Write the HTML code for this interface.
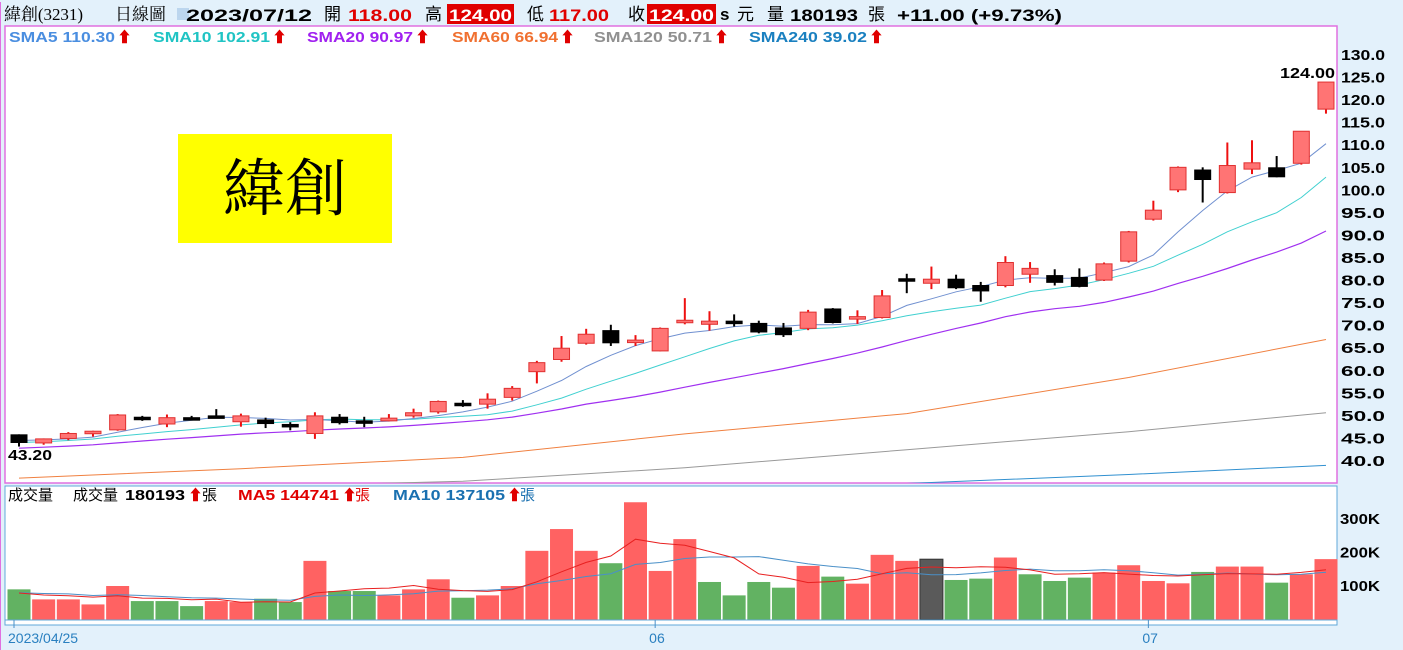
<!DOCTYPE html>
<html><head><meta charset="utf-8"><style>
html,body{margin:0;padding:0;background:#e3f1fb;}
svg{display:block;font-family:"Liberation Sans","Noto Sans CJK TC",sans-serif;}
</style></head><body>
<svg id="c" width="1403" height="650" viewBox="0 0 1403 650">
<rect x="0" y="0" width="1403" height="650" fill="#e3f1fb"/>
<rect x="5" y="26" width="1332" height="457" fill="#fff" stroke="#e070e0" stroke-width="1.5"/>
<rect x="5" y="486" width="1332" height="139" fill="#fff" stroke="#60a8d8" stroke-width="1"/>
<line x1="0" y1="2" x2="0" y2="650" stroke="#e070e0" stroke-width="2"/>
<g font-size="17">
<text x="4" y="20" textLength="79" font-family="'Liberation Serif','Noto Serif CJK SC',serif">緯創(3231)</text>
<text x="115" y="20" font-family="'Liberation Serif','Noto Serif CJK SC',serif">日線圖</text>
<rect x="177" y="8" width="12" height="12" fill="#bcd6ee"/>
<text x="186" y="21" font-weight="bold" textLength="126" lengthAdjust="spacingAndGlyphs">2023/07/12</text>
<text x="324" y="20">開</text>
<text x="348" y="21" font-weight="bold" textLength="64" lengthAdjust="spacingAndGlyphs" fill="#e00000">118.00</text>
<text x="425" y="20">高</text>
<rect x="447" y="4" width="67" height="20" fill="#e00000"/>
<text x="449" y="21" font-weight="bold" textLength="63" lengthAdjust="spacingAndGlyphs" fill="#fff">124.00</text>
<text x="527" y="20">低</text>
<text x="549" y="21" font-weight="bold" textLength="60" lengthAdjust="spacingAndGlyphs" fill="#e00000">117.00</text>
<text x="628" y="20">收</text>
<rect x="647" y="4" width="69" height="20" fill="#e00000"/>
<text x="649" y="21" font-weight="bold" textLength="65" lengthAdjust="spacingAndGlyphs" fill="#fff">124.00</text>
<text x="720" y="20" font-weight="bold">s</text>
<text x="737" y="20">元</text>
<text x="767" y="20">量</text>
<text x="790" y="21" font-weight="bold" textLength="68" lengthAdjust="spacingAndGlyphs">180193</text>
<text x="868" y="20">張</text>
<text x="897" y="21" font-weight="bold" textLength="165" lengthAdjust="spacingAndGlyphs">+11.00 (+9.73%)</text>
</g>
<g font-size="15" font-weight="bold">
<text x="9" y="42" textLength="106" lengthAdjust="spacingAndGlyphs" fill="#4a8ee0">SMA5 110.30</text><text x="117" y="42" fill="#e00000">⬆</text>
<text x="153" y="42" textLength="117" lengthAdjust="spacingAndGlyphs" fill="#20c4c4">SMA10 102.91</text><text x="272" y="42" fill="#e00000">⬆</text>
<text x="307" y="42" textLength="106" lengthAdjust="spacingAndGlyphs" fill="#a020f0">SMA20 90.97</text><text x="415" y="42" fill="#e00000">⬆</text>
<text x="452" y="42" textLength="106" lengthAdjust="spacingAndGlyphs" fill="#f07030">SMA60 66.94</text><text x="560" y="42" fill="#e00000">⬆</text>
<text x="594" y="42" textLength="118" lengthAdjust="spacingAndGlyphs" fill="#909090">SMA120 50.71</text><text x="714" y="42" fill="#e00000">⬆</text>
<text x="749" y="42" textLength="118" lengthAdjust="spacingAndGlyphs" fill="#1a80c0">SMA240 39.02</text><text x="869" y="42" fill="#e00000">⬆</text>
</g>
<g font-size="15">
<text x="8" y="500">成交量</text>
<text x="73" y="500">成交量</text>
<text x="125" y="500" font-weight="bold" textLength="60" lengthAdjust="spacingAndGlyphs">180193</text><text x="188" y="500" fill="#e00000">⬆</text><text x="202" y="500">張</text>
<text x="238" y="500" fill="#e00000" font-weight="bold" textLength="101" lengthAdjust="spacingAndGlyphs">MA5 144741</text><text x="342" y="500" fill="#e00000">⬆</text><text x="355" y="500" fill="#e00000">張</text>
<text x="393" y="500" fill="#1a70b0" font-weight="bold" textLength="112" lengthAdjust="spacingAndGlyphs">MA10 137105</text><text x="507" y="500" fill="#e00000">⬆</text><text x="520" y="500" fill="#1a70b0">張</text>
</g>
<rect x="178" y="134" width="214" height="109" fill="#ffff00"/>
<text x="285" y="210" text-anchor="middle" font-size="62" font-family="'Liberation Serif','Noto Serif CJK SC',serif">緯創</text>
<defs><clipPath id="pc"><rect x="5" y="26" width="1332" height="457"/></clipPath></defs>
<g id="plines" clip-path="url(#pc)"></g>
<g id="candles"></g>
<g id="vol"></g>
<g id="axes"></g>
</svg>
<script>
const opens=[45.8,44.0,45.0,46.4,46.9,49.7,48.2,49.6,50.0,48.7,49.1,48.1,46.1,49.7,48.9,48.9,50.0,50.9,52.8,52.6,54.1,59.8,62.5,66.1,68.9,66.5,64.4,71.0,70.3,71.0,70.5,69.5,69.4,73.7,71.5,71.8,80.4,79.4,80.3,78.9,78.9,81.4,81.1,80.7,80.1,84.3,93.6,100.1,104.5,99.5,104.7,105.0,106.0,118.0];
const closes=[44.1,44.9,46.1,46.6,50.2,49.3,49.6,49.4,49.9,50.0,48.3,47.8,50.0,48.5,48.4,49.5,50.7,53.2,52.6,53.7,56.1,61.8,65.0,68.1,66.2,66.8,69.4,71.2,71.0,70.6,68.6,68.0,73.0,70.7,72.0,76.6,80.2,80.3,78.4,77.7,84.0,82.7,79.6,78.7,83.7,90.8,95.6,105.1,102.4,105.5,106.1,103.0,113.1,124.0];
const highs=[45.9,45.0,46.4,46.7,50.4,50.0,50.3,50.0,51.5,50.5,49.6,48.6,50.8,50.4,49.8,50.4,51.6,53.4,53.5,55.0,56.6,62.2,67.7,69.3,70.2,67.9,69.6,76.1,73.2,72.5,71.1,70.6,73.5,73.9,73.4,77.9,81.5,83.1,81.3,79.7,85.4,84.1,82.5,82.7,84.0,91.0,97.7,105.3,105.1,110.6,111.1,107.6,113.1,124.0];
const lows=[43.2,43.6,44.6,45.4,46.7,48.9,47.5,49.0,49.8,47.6,47.3,46.8,44.9,48.1,47.5,48.8,49.6,50.5,52.0,51.6,53.4,57.2,62.0,65.8,65.5,65.5,64.3,70.3,68.9,69.8,68.3,67.5,69.0,70.5,70.4,71.6,77.2,78.1,78.1,75.3,78.5,79.5,78.9,78.5,79.9,84.0,93.3,99.6,97.3,99.3,103.6,102.9,105.7,117.0];
const volumes=[90,60,60,45,100,55,55,40,55,52,62,52,175,85,85,72,90,120,65,72,100,205,270,205,168,350,145,240,112,72,112,95,160,128,107,193,175,180,118,122,185,135,115,125,140,162,115,108,142,158,158,110,135,180.193];
const volColors=['g','r','r','r','r','g','g','g','r','r','g','g','r','g','g','r','r','r','g','r','r','r','r','r','g','r','r','r','g','g','g','g','r','g','r','r','r','k','g','g','r','g','g','g','r','r','r','r','g','r','r','g','r','r'];
const priorCloses=[40.5,41,41.2,41.5,41,41.8,42,42.3,42,42.5,43,43.5,43.2,44,44.5,44.2,45,44.6,44.8];
const priorVolumes=[85,70,95,75,80,90,70,65,80];
const sma60Idx=[0,9,18,27,36,45,53], sma60Val=[36.2,38.3,40.8,46.0,50.5,58.5,66.94];
const sma120Idx=[0,18,27,36,45,53], sma120Val=[33.0,35.5,38.5,42.5,46.5,50.71];
const sma240Idx=[0,18,27,36,45,53], sma240Val=[30.0,32.0,33.5,35.0,37.0,39.02];
const priceTicks=[130,125,120,115,110,105,100,95,90,85,80,75,70,65,60,55,50,45,40];
const volTicks=[300,200,100];
const volTickLabels=['300K','200K','100K'];
const dateTickIdx=[0,26,46], dateTickLabels=['2023/04/25','06','07'];

const NS='http://www.w3.org/2000/svg';
const X=i=>19+24.66*i;
const PY=p=>55+(130-p)*4.511;
const VY=v=>619.5-v*0.335;
function mk(tag,attrs,parent){const e=document.createElementNS(NS,tag);for(const k in attrs)e.setAttribute(k,attrs[k]);parent.appendChild(e);return e;}
const gL=document.getElementById('plines'),gC=document.getElementById('candles'),gV=document.getElementById('vol'),gA=document.getElementById('axes');

function smaSeries(all,n,offset){const out=[];for(let i=0;i<all.length-offset;i++){const j=i+offset;let s=0,c=0;for(let k=Math.max(0,j-n+1);k<=j;k++){s+=all[k];c++;}out.push(s/c);}return out;}
const allC=priorCloses.concat(closes);
function line(vals,color,w,yf,name,parent){let d='';vals.forEach((v,i)=>{d+=(i?'L':'M')+X(i).toFixed(1)+','+yf(v).toFixed(1);});const p=mk('path',{d:d,fill:'none',stroke:color,'stroke-width':w},parent);return p;}
function sparse(idx,val,color,name){let d='';idx.forEach((ix,k)=>{d+=(k?'L':'M')+X(ix).toFixed(1)+','+PY(val[k]).toFixed(1);});const p=mk('path',{d:d,fill:'none',stroke:color,'stroke-width':1},gL);}
sparse(sma240Idx,sma240Val,'#3090d0','sma240-line');
sparse(sma120Idx,sma120Val,'#999999','sma120-line');
sparse(sma60Idx,sma60Val,'#f08040','sma60-line');
line(smaSeries(allC,20,priorCloses.length),'#a030f0',1.2,PY,'sma20-line',gL);
line(smaSeries(allC,10,priorCloses.length),'#40d0d0',1,PY,'sma10-line',gL);
line(smaSeries(allC,5,priorCloses.length),'#7090d0',1,PY,'sma5-line',gL);

opens.forEach((o,i)=>{const c=closes[i],up=c>=o,x=X(i);
 const g=mk('g',{},gC);
 
 
 const wc=up?'#ee1010':'#000';
 mk('line',{x1:x,x2:x,y1:PY(highs[i]),y2:PY(lows[i]),stroke:wc,'stroke-width':2},g);
 const t=PY(Math.max(o,c)),b=PY(Math.min(o,c));
 const h=Math.max(b-t,2.5);
 mk('rect',{x:x-8,y:t,width:16,height:h,fill:up?'#ff7474':'#000',stroke:up?'#e03030':'#000','stroke-width':1},g);
});
const lo=mk('text',{x:8,y:460,'font-size':15,'font-weight':'bold',textLength:44,lengthAdjust:'spacingAndGlyphs'},gC);lo.textContent='43.20';


const hi=mk('text',{x:1280,y:78,'font-size':15,'font-weight':'bold',textLength:55,lengthAdjust:'spacingAndGlyphs'},gC);hi.textContent='124.00';



const colMap={r:'#ff6262',g:'#62b262',k:'#5a5a5a'};
volumes.forEach((v,i)=>{const r=mk('rect',{x:X(i)-11.5,y:VY(v),width:23,height:619.5-VY(v),fill:colMap[volColors[i]],stroke:volColors[i]==='k'?'#333':'none'},gV);
 
 });
const allV=priorVolumes.concat(volumes);
line(smaSeries(allV,10,priorVolumes.length),'#4a90c8',1,VY,'volume-ma10-line',gV);
line(smaSeries(allV,5,priorVolumes.length),'#e82020',1,VY,'volume-ma5-line',gV);
mk('line',{x1:5,x2:1337,y1:620,y2:620,stroke:'#60a8d8'},gA);

priceTicks.forEach(p=>{const t=mk('text',{x:1341,y:PY(p)+5,'font-size':15,'font-weight':'bold',textLength:44,lengthAdjust:'spacingAndGlyphs'},gA);t.textContent=p.toFixed(1);
 
 });
volTicks.forEach((v,k)=>{const t=mk('text',{x:1340,y:VY(v)+5,'font-size':15,'font-weight':'bold',textLength:40,lengthAdjust:'spacingAndGlyphs'},gA);t.textContent=volTickLabels[k];
 
 });
dateTickIdx.forEach((ix,k)=>{const x=X(ix)-5;mk('line',{x1:x,x2:x,y1:620,y2:628,stroke:'#4a90c8'},gA);
 const t=mk('text',{x:k===0?8:x-6,y:643,'font-size':14,fill:'#2a80c0'},gA);t.textContent=dateTickLabels[k];
 
 });
</script>
</body></html>
